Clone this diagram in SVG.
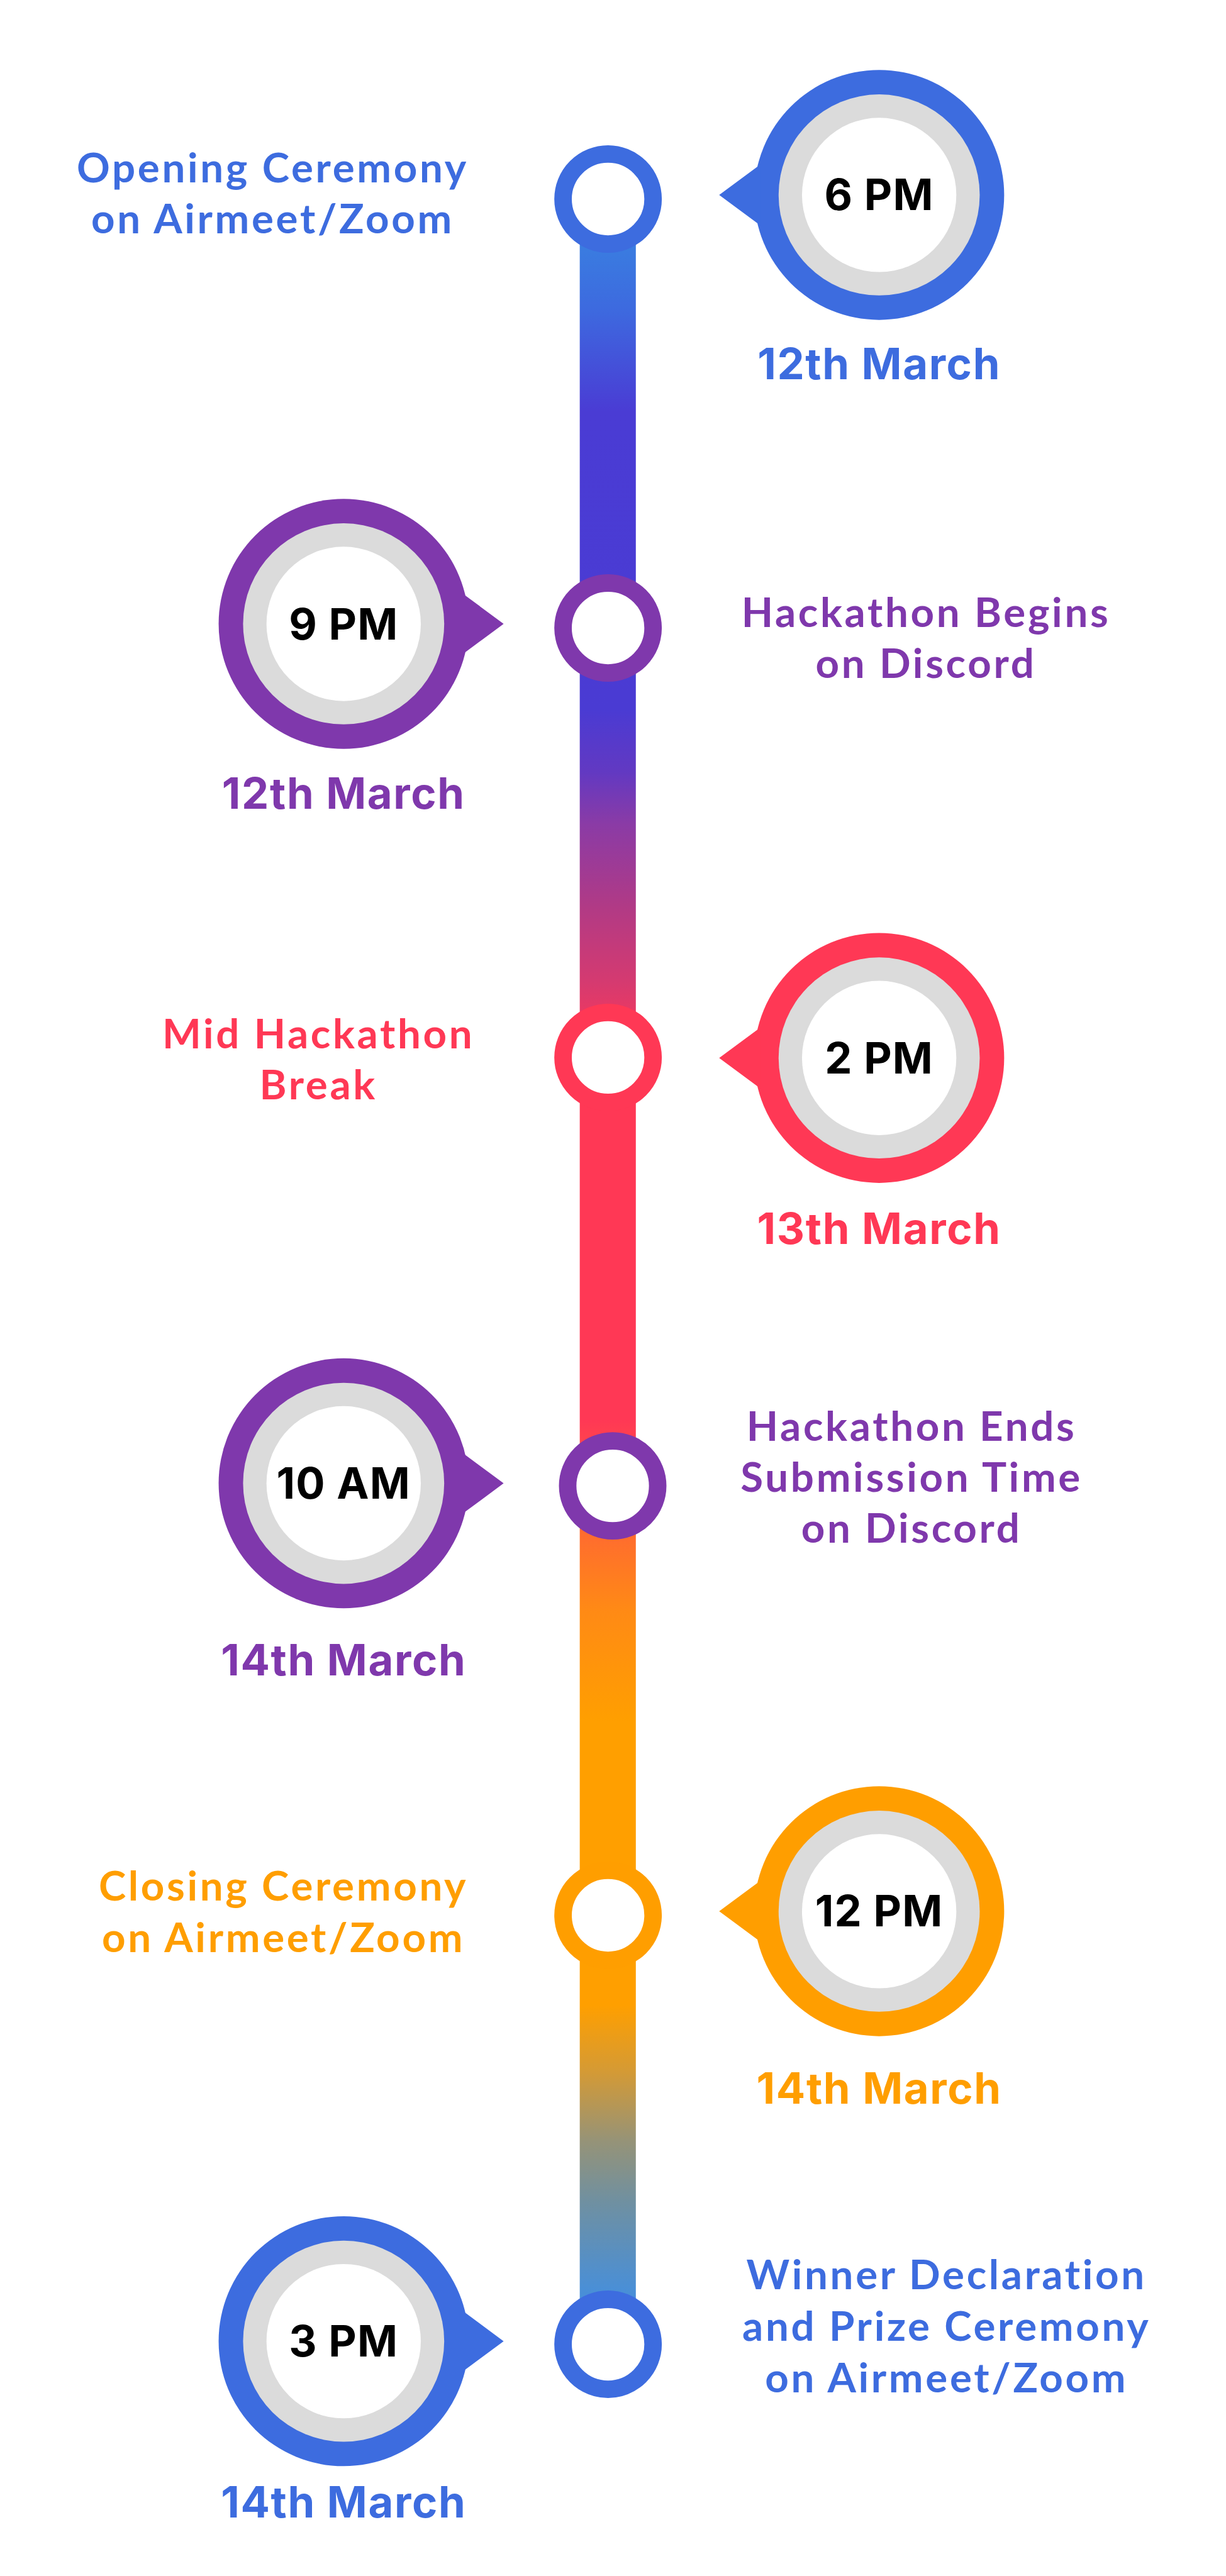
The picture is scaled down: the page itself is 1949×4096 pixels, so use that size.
<svg xmlns="http://www.w3.org/2000/svg" width="1949" height="4096" viewBox="0 0 1949 4096">
<defs>
<style>
.lbl{font-family:Lato,"Liberation Sans",sans-serif;font-weight:700;font-size:80px;letter-spacing:4.5px;text-anchor:middle}
.date{font-family:Inter,"Liberation Sans",sans-serif;font-weight:700;font-size:84px;letter-spacing:2px;text-anchor:middle}
.time{font-family:Inter,"Liberation Sans",sans-serif;font-weight:700;font-size:84px;letter-spacing:1.5px;text-anchor:middle;fill:#000}
.gray{fill:#DBDBDB}
.white{fill:#fff}
.blue{fill:#3D6CDF}
.purple{fill:#7F38AC}
.red{fill:#FF3855}
.orange{fill:#FF9E00}
.ring{fill:#fff;stroke-width:34}
.s-blue{stroke:#3D6CDF}
.s-purple{stroke:#7F38AC}
.s-red{stroke:#FF3855}
.s-orange{stroke:#FF9E00}
</style>
<linearGradient id="barGrad" gradientUnits="userSpaceOnUse" x1="0" y1="387" x2="0" y2="4558">
<stop offset="0.022" stop-color="#3A7CE0"/>
<stop offset="0.051" stop-color="#3D6ADF"/>
<stop offset="0.099" stop-color="#4A3CD4"/>
<stop offset="0.238" stop-color="#4A3BD3"/>
<stop offset="0.267" stop-color="#6239C2"/>
<stop offset="0.291" stop-color="#8A3BA6"/>
<stop offset="0.329" stop-color="#B03A86"/>
<stop offset="0.365" stop-color="#D53A70"/>
<stop offset="0.396" stop-color="#FF3855"/>
<stop offset="0.569" stop-color="#FF3855"/>
<stop offset="0.620" stop-color="#FF6A30"/>
<stop offset="0.658" stop-color="#FF8A15"/>
<stop offset="0.710" stop-color="#FF9F00"/>
<stop offset="0.842" stop-color="#FF9F00"/>
<stop offset="0.873" stop-color="#D49A35"/>
<stop offset="0.905" stop-color="#969377"/>
<stop offset="0.933" stop-color="#7090A0"/>
<stop offset="0.974" stop-color="#4A8FD6"/>
<stop offset="1" stop-color="#3F88E0"/>
</linearGradient>
</defs>
<rect width="1949" height="4096" fill="#fff"/>
<g transform="scale(0.8178)">
<g id="connectors">
<rect x="1127" y="387" width="109" height="4171" fill="url(#barGrad)"/>
</g>

<g id="event1">
<circle id="marker1" cx="1182" cy="387" r="87.5" class="ring s-blue"/>
<g id="bubble1">
<circle cx="1709" cy="379" r="243" class="blue"/>
<polygon points="1398,379 1479,319 1479,439" class="blue"/>
<circle cx="1709" cy="379" r="195.5" class="gray"/>
<circle cx="1709" cy="379" r="150" class="white"/>
<text x="1709" y="409" class="time">6 PM</text>
</g>
<g id="label1" class="blue">
<text x="530" y="355" class="lbl">Opening Ceremony</text>
<text x="530" y="454" class="lbl">on Airmeet/Zoom</text>
</g>
<text id="date1" x="1709" y="737" class="date blue">12th March</text>
</g>

<g id="event2">
<circle id="marker2" cx="1182" cy="1221" r="87.5" class="ring s-purple"/>
<g id="bubble2">
<circle cx="668" cy="1213" r="243" class="purple"/>
<polygon points="979,1213 898,1153 898,1273" class="purple"/>
<circle cx="668" cy="1213" r="195.5" class="gray"/>
<circle cx="668" cy="1213" r="150" class="white"/>
<text x="668" y="1243" class="time">9 PM</text>
</g>
<g id="label2" class="purple">
<text x="1800" y="1219" class="lbl">Hackathon Begins</text>
<text x="1800" y="1318" class="lbl">on Discord</text>
</g>
<text id="date2" x="668" y="1573" class="date purple">12th March</text>
</g>

<g id="event3">
<circle id="marker3" cx="1182" cy="2056" r="87.5" class="ring s-red"/>
<g id="bubble3">
<circle cx="1709" cy="2057" r="243" class="red"/>
<polygon points="1398,2057 1479,1997 1479,2117" class="red"/>
<circle cx="1709" cy="2057" r="195.5" class="gray"/>
<circle cx="1709" cy="2057" r="150" class="white"/>
<text x="1709" y="2087" class="time">2 PM</text>
</g>
<g id="label3" class="red">
<text x="619" y="2038" class="lbl">Mid Hackathon</text>
<text x="619" y="2137" class="lbl">Break</text>
</g>
<text id="date3" x="1709" y="2419" class="date red">13th March</text>
</g>

<g id="event4">
<circle id="marker4" cx="1191" cy="2889" r="87.5" class="ring s-purple"/>
<g id="bubble4">
<circle cx="668" cy="2884" r="243" class="purple"/>
<polygon points="979,2884 898,2824 898,2944" class="purple"/>
<circle cx="668" cy="2884" r="195.5" class="gray"/>
<circle cx="668" cy="2884" r="150" class="white"/>
<text x="668" y="2914" class="time">10 AM</text>
</g>
<g id="label4" class="purple">
<text x="1772" y="2801" class="lbl">Hackathon Ends</text>
<text x="1772" y="2900" class="lbl">Submission Time</text>
<text x="1772" y="3000" class="lbl">on Discord</text>
</g>
<text id="date4" x="668" y="3258" class="date purple">14th March</text>
</g>

<g id="event5">
<circle id="marker5" cx="1182" cy="3724" r="87.5" class="ring s-orange"/>
<g id="bubble5">
<circle cx="1709" cy="3716" r="243" class="orange"/>
<polygon points="1398,3716 1479,3656 1479,3776" class="orange"/>
<circle cx="1709" cy="3716" r="195.5" class="gray"/>
<circle cx="1709" cy="3716" r="150" class="white"/>
<text x="1709" y="3746" class="time">12 PM</text>
</g>
<g id="label5" class="orange">
<text x="551" y="3695" class="lbl">Closing Ceremony</text>
<text x="551" y="3796" class="lbl">on Airmeet/Zoom</text>
</g>
<text id="date5" x="1709" y="4090" class="date orange">14th March</text>
</g>

<g id="event6">
<circle id="marker6" cx="1182" cy="4558" r="87.5" class="ring s-blue"/>
<g id="bubble6">
<circle cx="668" cy="4552" r="243" class="blue"/>
<polygon points="979,4552 898,4492 898,4612" class="blue"/>
<circle cx="668" cy="4552" r="195.5" class="gray"/>
<circle cx="668" cy="4552" r="150" class="white"/>
<text x="668" y="4582" class="time">3 PM</text>
</g>
<g id="label6" class="blue">
<text x="1840" y="4451" class="lbl">Winner Declaration</text>
<text x="1840" y="4551" class="lbl">and Prize Ceremony</text>
<text x="1840" y="4651" class="lbl">on Airmeet/Zoom</text>
</g>
<text id="date6" x="668" y="4895" class="date blue">14th March</text>
</g>
</g>
</svg>
